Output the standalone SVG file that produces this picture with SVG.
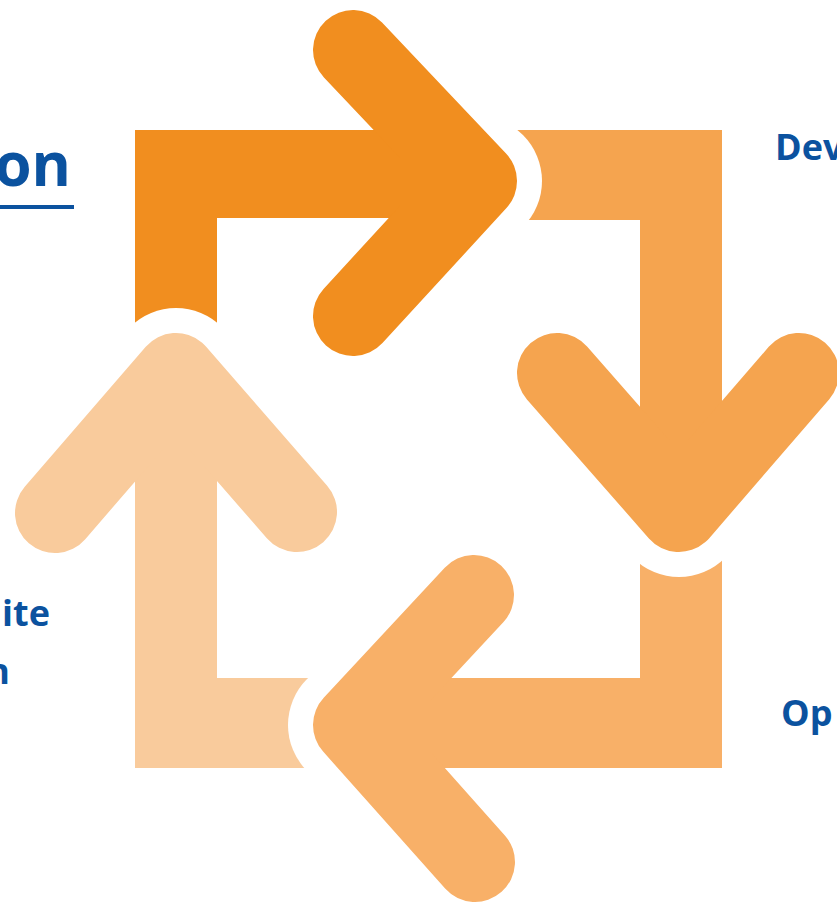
<svg xmlns="http://www.w3.org/2000/svg" width="837" height="908" viewBox="0 0 837 908">
  <style>
    .lbl { font-family: "Open Sans", "Noto Sans", "Liberation Sans", sans-serif; font-weight: 700; fill: #0B529F; }
    .head { fill: none; stroke-width: 80; stroke-linecap: round; stroke-linejoin: round; }
    .a1 { stroke: #F18E1F; }
    .a2 { stroke: #F5A44F; }
    .a3 { stroke: #F8B068; }
    .a4 { stroke: #F9CB9C; }
    .a1b { fill: #F18E1F; }
    .a2b { fill: #F5A44F; }
    .a3b { fill: #F8B068; }
    .a4b { fill: #F9CB9C; }
    .halo { fill: #FFFFFF; }
  </style>
  <rect width="837" height="908" fill="#FFFFFF"/>

  <g id="connectors">
    <g id="bars">
      <polygon class="a1b" points="135,345 135,130 470,130 470,218 217,218 217,345"/>
      <polygon class="a2b" points="500,130 722,130 722,490 640,490 640,220 500,220"/>
      <polygon class="a3b" points="640,540 722,540 722,768 370,768 370,678 640,678"/>
      <polygon class="a4b" points="135,768 135,400 217,400 217,678 330,678 330,768"/>
    </g>
    <g id="halos">
      <circle class="halo" cx="477" cy="181" r="65"/>
      <circle class="halo" cx="679" cy="512" r="65"/>
      <circle class="halo" cx="353" cy="725" r="65"/>
      <circle class="halo" cx="176" cy="373" r="65"/>
    </g>
    <g id="heads">
      <polyline id="arrow1-head" class="head a1" points="353,50 477,181 353,316"/>
      <polyline id="arrow2-head" class="head a2" points="557,373 679,512 799,373"/>
      <polyline id="arrow3-head" class="head a3" points="474,595 353,725 475,862"/>
      <polyline id="arrow4-head" class="head a4" points="55,513 176,373 297,512"/>
    </g>
    <g id="bar-joins">
      <rect class="a1b" x="400" y="130" width="70" height="88"/>
      <rect class="a2b" x="640" y="440" width="82" height="60"/>
      <rect class="a3b" x="360" y="678" width="70" height="90"/>
      <rect class="a4b" x="135" y="395" width="82" height="55"/>
    </g>
  </g>

  <g id="node-title">
    <text class="lbl" x="71" y="186" font-size="60" text-anchor="end">on</text>
    <rect x="0" y="205" width="74" height="4" fill="#0B529F"/>
  </g>
  <g id="node-dev">
    <text class="lbl" x="775" y="160" font-size="36">Dev</text>
  </g>
  <g id="node-ite">
    <text class="lbl" x="50" y="626" font-size="36" text-anchor="end">ite</text>
    <text class="lbl" x="10" y="684" font-size="36" text-anchor="end">n</text>
  </g>
  <g id="node-op">
    <text class="lbl" x="781" y="726" font-size="36">Op</text>
  </g>
</svg>
